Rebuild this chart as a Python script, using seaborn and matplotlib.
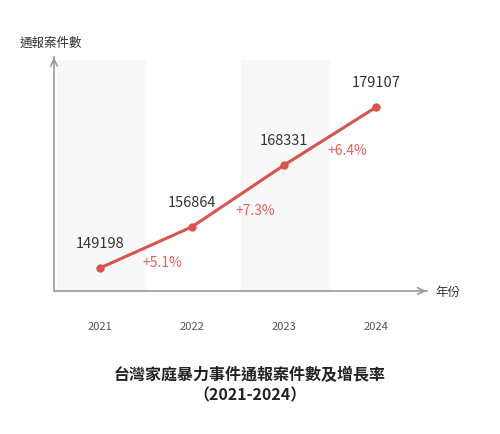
import matplotlib
matplotlib.use("Agg")
import matplotlib.pyplot as plt
import seaborn as sns
import pandas as pd

years = ["2021", "2022", "2023", "2024"]
cases = [149198, 156864, 168331, 179107]
growth = ["+5.1%", "+7.3%", "+6.4%"]

sns.set_theme(style="white")
plt.rcParams['font.family'] = ['Noto Sans CJK TC', 'DejaVu Sans']

df = pd.DataFrame({"x": range(len(years)), "cases": cases})
fig = plt.figure(figsize=(5, 4.34), dpi=100)
ax = fig.add_axes([0.108, 0.3295, 0.746, 0.5392])
red = "#d9534f"
for i in (0, 2):
    ax.axvspan(i - 0.47, i + 0.5, ymin=0, ymax=0.985, color="#f8f8f8", lw=0, zorder=0)
sns.lineplot(data=df, x="x", y="cases", color=red, lw=2.2, marker="o", markersize=6,
             markeredgewidth=0, ax=ax, zorder=3)
ax.set_xlim(-0.5, 3.55)
ax.set_ylim(144925, 188400)
for i, v in enumerate(cases):
    ax.annotate(str(v), (i, v), xytext=(0, 12), textcoords="offset points",
                ha="center", va="bottom", fontsize=10.5, color="#333333")
for i, g in enumerate(growth):
    xm = i + 0.5
    ym = (cases[i] + cases[i + 1]) / 2
    ax.annotate(g, (xm, ym), xytext=(12, -11), textcoords="offset points",
                ha="center", va="center", fontsize=10, color="#e5605a")
for s in ["top", "right"]:
    ax.spines[s].set_visible(False)
for s in ["left", "bottom"]:
    ax.spines[s].set_color("#999999")
    ax.spines[s].set_linewidth(1.2)
ax.annotate("", xy=(1.005, 0), xytext=(0.98, 0), xycoords="axes fraction",
            arrowprops=dict(arrowstyle="->", color="#999999", lw=1.2))
ax.annotate("", xy=(0, 1.01), xytext=(0, 0.98), xycoords="axes fraction",
            arrowprops=dict(arrowstyle="->", color="#999999", lw=1.2))
ax.set_yticks([])
ax.set_xticks(range(len(years)))
ax.set_xticklabels(years, fontsize=8, color="#555555")
ax.tick_params(axis="x", length=0, pad=22)
ax.set_xlabel("")
ax.set_ylabel("")
fig.text(0.04, 0.90, "通報案件數", fontsize=9, color="#333333", ha="left", va="center")
fig.text(0.87, 0.325, "年份", fontsize=9, color="#333333", ha="left", va="center")
fig.text(0.5, 0.113, "台灣家庭暴力事件通報案件數及增長率\n（2021-2024）", fontsize=11.5,
         fontweight="bold", color="#222222", ha="center", va="center", linespacing=1.3)
fig.savefig("out.png", dpi=100, facecolor="white")
